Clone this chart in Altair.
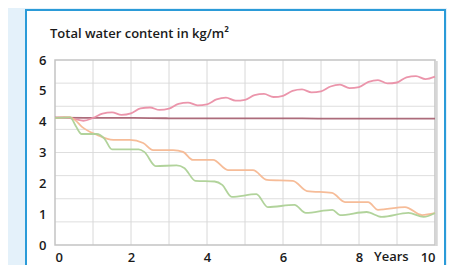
import altair as alt
import pandas as pd

# ---- data ----
pink_years = [0, 0.25, 0.5, 0.75, 1, 1.25, 1.5, 1.75, 2, 2.25, 2.5, 2.75, 3, 3.25, 3.5, 3.75,
              4, 4.25, 4.5, 4.75, 5, 5.25, 5.5, 5.75, 6, 6.25, 6.5, 6.75, 7, 7.25, 7.5, 7.75,
              8, 8.25, 8.5, 8.75, 9, 9.25, 9.5, 9.75, 10]
pink_vals = [4.13, 4.14, 4.09, 4.03, 4.12, 4.26, 4.30, 4.22, 4.27, 4.43, 4.46, 4.38, 4.42, 4.58,
             4.62, 4.53, 4.56, 4.72, 4.78, 4.68, 4.71, 4.86, 4.90, 4.80, 4.84, 5.00, 5.05, 4.95,
             4.98, 5.14, 5.20, 5.09, 5.12, 5.29, 5.35, 5.24, 5.27, 5.44, 5.48, 5.38, 5.46]

flat_years = [0, 1, 2, 3, 4, 5, 6, 7, 8, 9, 10]
flat_vals = [4.13, 4.12, 4.12, 4.11, 4.11, 4.11, 4.11, 4.10, 4.10, 4.10, 4.10]

orange_years = [0, 0.39, 0.53, 0.71, 1.11, 1.53, 1.97, 2.32, 2.58, 3.11, 3.37, 3.63, 4.16, 4.55,
                5.21, 5.58, 6.26, 6.63, 7.29, 7.63, 8.24, 8.5, 9.21, 9.66, 10]
orange_vals = [4.12, 4.15, 4.05, 3.83, 3.57, 3.41, 3.41, 3.31, 3.08, 3.08, 3.02, 2.76, 2.76, 2.43,
               2.43, 2.11, 2.08, 1.75, 1.69, 1.39, 1.39, 1.14, 1.23, 0.97, 1.03]

green_years = [0, 0.4, 0.55, 0.7, 1.1, 1.3, 1.5, 2.2, 2.35, 2.65, 3.2, 3.4, 3.7, 4.2, 4.4, 4.65,
               5.3, 5.6, 6.3, 6.6, 7.3, 7.5, 8.2, 8.6, 9.3, 9.7, 10]
green_vals = [4.12, 4.14, 3.85, 3.60, 3.60, 3.45, 3.10, 3.10, 3.02, 2.56, 2.58, 2.50, 2.08, 2.06,
              1.95, 1.56, 1.65, 1.23, 1.30, 1.04, 1.14, 0.97, 1.07, 0.91, 1.04, 0.91, 1.04]

series_names = ["flat", "pink", "orange", "green"]
series_colors = ["#a86474", "#ea8fa6", "#f5b892", "#add196"]

x_ticks = [0, 2, 4, 6, 8, 10]
x_grid = [1, 2, 3, 4, 5, 6, 7, 8, 9]
y_ticks = [0, 1, 2, 3, 4, 5, 6]
y_grid = [0.75, 1.5, 2.25, 3, 3.75, 4.5, 5.25]

title_text = "Total water content in kg/m²"
unit_label = "Years"
unit_pos = [8.85]

# ---- build table ----
rows = []
for name, xs, ys in [("flat", flat_years, flat_vals), ("pink", pink_years, pink_vals),
                     ("orange", orange_years, orange_vals), ("green", green_years, green_vals)]:
    for xv, yv in zip(xs, ys):
        rows.append({"series": name, "year": xv, "value": yv})
df = pd.DataFrame(rows)

W, H = 380, 185
FONT = "Open Sans"

xscale = alt.Scale(domain=[0, 10], nice=False, zero=False)
yscale = alt.Scale(domain=[0, 6], nice=False, zero=False)

x_axis = alt.Axis(values=x_ticks, grid=False, ticks=False, domain=False, zindex=2,
                  labelFont=FONT, labelFontSize=13, labelFontWeight=600,
                  labelColor="#1a1a1a", labelPadding=6)
y_axis = alt.Axis(values=y_ticks, grid=False, ticks=False, domain=False, zindex=2,
                  labelFont=FONT, labelFontSize=13, labelFontWeight=600,
                  labelColor="#1a1a1a", labelPadding=9)

one = pd.DataFrame({"a": [0]})

panel = alt.Chart(one).mark_rect(fill="white", stroke="#2b9bd8", strokeWidth=2).encode(
    x=alt.value(-29), x2=alt.value(390), y=alt.value(-50), y2=alt.value(240)
)

frame = alt.Chart(one).mark_rect(fill=None, stroke="#c4c4c4", strokeWidth=1.5).encode(
    x=alt.value(0), x2=alt.value(W), y=alt.value(0), y2=alt.value(H)
)

hgrid = alt.Chart(pd.DataFrame({"v": y_grid})).mark_rule(color="#dedede", strokeWidth=1).encode(
    y=alt.Y("v:Q", scale=yscale, axis=y_axis, title=None)
)
vgrid = alt.Chart(pd.DataFrame({"v": x_grid})).mark_rule(color="#d8d8d8", strokeWidth=1).encode(
    x=alt.X("v:Q", scale=xscale, axis=x_axis, title=None)
)

shadow = alt.Chart(one).mark_rule(color="#d6d6d6", strokeWidth=2.5).encode(
    x=alt.value(W + 1.5), y=alt.value(1), y2=alt.value(H + 1)
)

lines = alt.Chart(df).mark_line(strokeWidth=1.8, interpolate="monotone", opacity=0.95).encode(
    x=alt.X("year:Q", scale=xscale, title=None, axis=x_axis),
    y=alt.Y("value:Q", scale=yscale, title=None, axis=y_axis),
    color=alt.Color("series:N", scale=alt.Scale(domain=series_names, range=series_colors),
                    legend=None),
    order=alt.Order("year:Q"),
)

title = alt.Chart(pd.DataFrame({"t": [title_text]})).mark_text(
    align="left", baseline="alphabetic", font=FONT, fontSize=13, fontWeight=600, color="#1a1a1a"
).encode(x=alt.value(-5), y=alt.value(-22), text="t:N")

years = alt.Chart(pd.DataFrame({"t": [unit_label], "x": unit_pos})).mark_text(
    align="center", baseline="top", font=FONT, fontSize=13, fontWeight=600, color="#1a1a1a"
).encode(x=alt.X("x:Q", scale=xscale, axis=x_axis, title=None), y=alt.value(H + 6), text="t:N")

chart = alt.layer(panel, hgrid, vgrid, frame, shadow, lines, title, years).properties(
    width=W, height=H,
    autosize=alt.AutoSizeParams(type="none"),
    padding={"left": 47, "top": 52, "right": 12, "bottom": 20},
    background="#e4f1fa",
).configure_view(stroke=None)

chart.save("out.html", embed_options={"renderer": "svg", "actions": False})
